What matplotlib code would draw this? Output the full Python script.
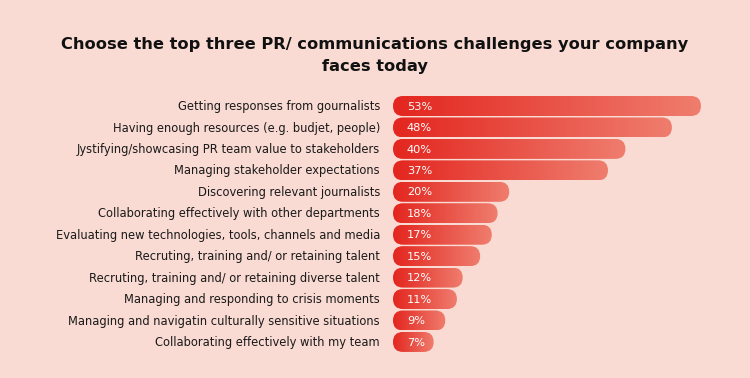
import numpy as np
import matplotlib
matplotlib.use('Agg')
import matplotlib.pyplot as plt
from matplotlib.patches import FancyBboxPatch
from matplotlib.colors import LinearSegmentedColormap

challenges = [
    'Getting responses from gournalists',
    'Having enough resources (e.g. budjet, people)',
    'Jystifying/showcasing PR team value to stakeholders',
    'Managing stakeholder expectations',
    'Discovering relevant journalists',
    'Collaborating effectively with other departments',
    'Evaluating new technologies, tools, channels and media',
    'Recruting, training and/ or retaining talent',
    'Recruting, training and/ or retaining diverse talent',
    'Managing and responding to crisis moments',
    'Managing and navigatin culturally sensitive situations',
    'Collaborating effectively with my team',
]
shares = [53, 48, 40, 37, 20, 18, 17, 15, 12, 11, 9, 7]

bg = '#FADBD3'
grad = LinearSegmentedColormap.from_list('bar', ['#E3261F', '#EF7D6E'])

W, H = 750, 378
fig = plt.figure(figsize=(W / 100, H / 100), dpi=100, facecolor=bg)

# axes placed in pixel terms: bars start at x=393, ~5.81 px per percent
px_per_pct = 5.81
row_px = 21.45
ax_left, ax_right = 393, 745
ax_top, ax_bot = 94, 354
ax = fig.add_axes([ax_left / W, 1 - ax_bot / H, (ax_right - ax_left) / W, (ax_bot - ax_top) / H])
ax.set_facecolor(bg)
ax.set_xlim(0, (ax_right - ax_left) / px_per_pct)
ax.set_ylim((ax_bot - 106) / row_px, (ax_top - 106) / row_px)

h = 20 / row_px
aspect = px_per_pct / row_px
r = (h / 2) / aspect
g = np.linspace(0, 1, 256).reshape(1, -1)

for i, (lab, v) in enumerate(zip(challenges, shares)):
    box = FancyBboxPatch((0, i - h / 2), v, h,
                         boxstyle=f'round,pad=0,rounding_size={r}',
                         mutation_aspect=aspect, facecolor='none', edgecolor='none')
    ax.add_patch(box)
    im = ax.imshow(g, cmap=grad, aspect='auto', extent=[0, v, i + h / 2, i - h / 2],
                   interpolation='bilinear')
    im.set_clip_path(box)
    ax.text(2.4, i + 0.03, f'{v}%', color='white', fontsize=8.2, va='center', ha='left',
            family='DejaVu Sans')
    ax.text(-13 / px_per_pct, i + 0.03, lab, color='#1a1a1a', fontsize=8.3, va='center',
            ha='right', family='DejaVu Sans')

ax.set_xlim(0, (ax_right - ax_left) / px_per_pct)
ax.set_ylim((ax_bot - 106) / row_px, (ax_top - 106) / row_px)
ax.axis('off')

fig.text(0.5, 1 - 44 / H, 'Choose the top three PR/ communications challenges your company',
         ha='center', va='center', fontsize=11.7, fontweight='bold', family='DejaVu Sans', color='#111111')
fig.text(0.5, 1 - 66 / H, 'faces today',
         ha='center', va='center', fontsize=11.7, fontweight='bold', family='DejaVu Sans', color='#111111')

fig.savefig('out.png', dpi=100, facecolor=bg)
